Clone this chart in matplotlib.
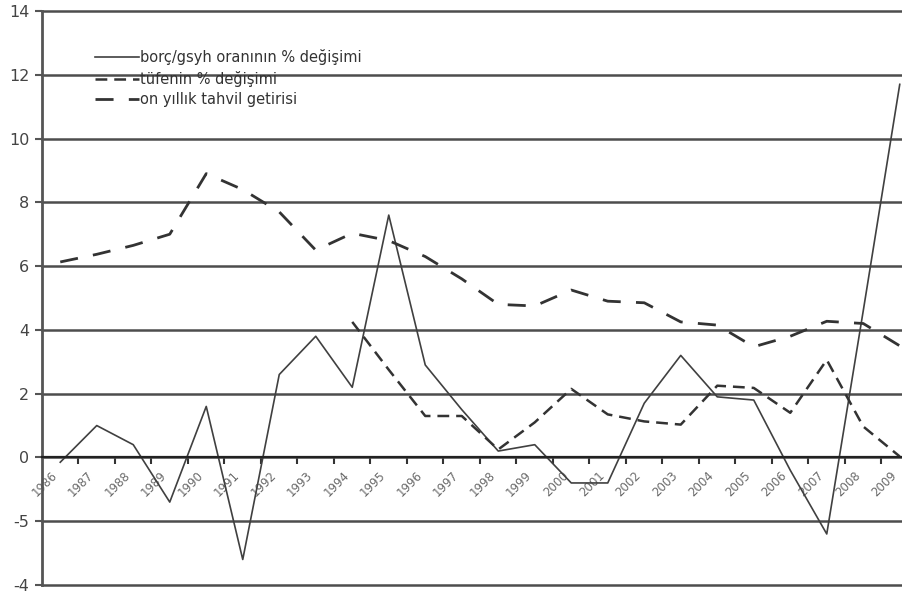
import numpy as np
import matplotlib
matplotlib.use("Agg")
import matplotlib.pyplot as plt
from matplotlib.transforms import ScaledTranslation

plt.rcParams['font.family'] = ['Liberation Sans Narrow', 'DejaVu Sans']
plt.rcParams['lines.scale_dashes'] = False

years = [str(y) for y in range(1986, 2010)]

# borç/gsyh oranının % değişimi
borc = [-0.15, 1.0, 0.4, -1.4, 1.6, -3.2, 2.6, 3.8, 2.2, 7.6, 2.9, 1.5,
        0.2, 0.4, -0.8, -0.8, 1.7, 3.2, 1.9, 1.8, -0.4, -2.4, 4.6, 11.7]
# tüfenin % değişimi (starts 1994)
tufe = [4.25, 2.75, 1.3, 1.3, 0.25, 1.1, 2.15, 1.35, 1.13, 1.03, 2.25, 2.18,
        1.4, 3.06, 0.97, 0.03]
# on yıllık tahvil getirisi
tahvil = [6.13, 6.37, 6.65, 7.0, 8.9, 8.4, 7.7, 6.5, 7.03, 6.8, 6.3, 5.6,
          4.8, 4.75, 5.25, 4.9, 4.85, 4.25, 4.15, 3.47, 3.8, 4.27, 4.2, 3.5]

yticks = [-4, -2, 0, 2, 4, 6, 8, 10, 12, 14]
ytick_labels = ['-4', '-5', '0', '2', '4', '6', '8', '10', '12', '14']

x = np.arange(len(years))
xt = x[len(years) - len(tufe):]

fig = plt.figure(figsize=(9.03, 6.02), dpi=100)
ax = fig.add_axes([42/903, 17/602, 876/903, 574/602])

ax.plot(x, borc, c='#404040', lw=1.2, label='borç/gsyh oranının % değişimi')
ax.plot(xt, tufe, c='#333333', lw=1.8, ls=(0, (8.5, 5)), label='tüfenin % değişimi')
ax.plot(x, tahvil, c='#333333', lw=2.0, ls=(0, (13, 11)), label='on yıllık tahvil getirisi')

ax.set_xlim(-0.5, 23.5)
ax.set_ylim(-4, 14)
ax.set_yticks(yticks)
ax.set_yticklabels(ytick_labels)
ax.yaxis.grid(True, color='#4d4d4d', lw=1.8)
ax.set_axisbelow(True)
for gl in ax.get_ygridlines():
    gl.set_clip_on(False)

for s in ['top', 'right']:
    ax.spines[s].set_visible(False)
ax.spines['left'].set_color('#555555')
ax.spines['left'].set_linewidth(2)
ax.spines['bottom'].set_position(('data', 0))
ax.spines['bottom'].set_color('#222222')
ax.spines['bottom'].set_linewidth(1.6)

ax.set_xticks(x)
ax.set_xticklabels(years, rotation=45, ha='right', va='top', rotation_mode='anchor')
ax.set_xticks(np.arange(0.5, 23, 1), minor=True)
ax.tick_params(axis='x', which='major', length=0, pad=8, labelsize=8.5, labelcolor='#6a6a6a')
ax.tick_params(axis='x', which='minor', length=5, width=1.5, color='#333333', direction='out')
ax.tick_params(axis='y', length=5, width=1.5, color='#555555', labelsize=11.5, labelcolor='#444444', pad=4)
# labels sit a little left of the category centre
shift = ScaledTranslation(-7/72, 0, fig.dpi_scale_trans)
for lab in ax.get_xticklabels():
    lab.set_transform(lab.get_transform() + shift)

ax.legend(loc='upper left', bbox_to_anchor=(82/903, 1 - 36/602), bbox_transform=fig.transFigure,
          frameon=False, fontsize=10.5, handlelength=3.0, handletextpad=0.1,
          labelspacing=0.38, labelcolor='#333333')

plt.savefig('out.png', dpi=100)
plt.close()
